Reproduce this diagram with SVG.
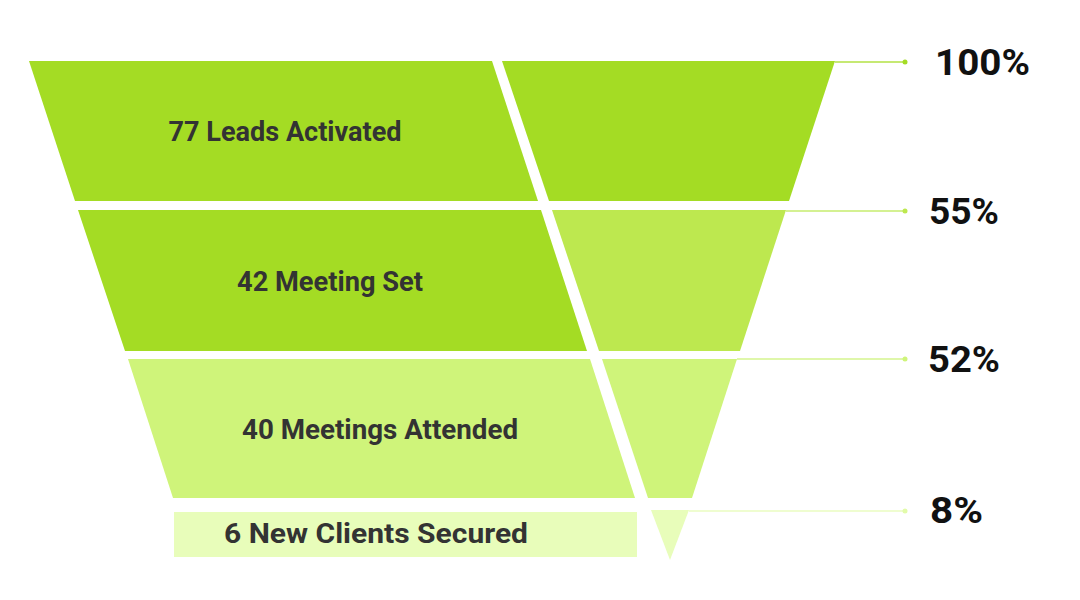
<svg xmlns="http://www.w3.org/2000/svg" width="1080" height="600" viewBox="0 0 1080 600">
<style>
.lbl{font-family:Roboto,"Liberation Sans",sans-serif;font-weight:700;font-size:28px;fill:#333333;text-anchor:middle}
.pct{font-family:Roboto,"Liberation Sans",sans-serif;font-weight:700;font-size:36.5px;fill:#111111}
.c1{fill:#A4DC24}.c2{fill:#BDE84F}.c3{fill:#CFF47A}.c4{fill:#E8FDBA}
.ln{stroke-width:1.5;fill:none}
</style>
<rect width="1080" height="600" fill="#ffffff"/>
<g id="stage1">
<polygon class="c1" points="29,61 492,61 538,201 75,201"/>
<polygon class="c1" points="502,61 835,61 789,201 549,201"/>
<text class="lbl" x="285" y="141" font-size="27.5" textLength="233" lengthAdjust="spacingAndGlyphs">77 Leads Activated</text>
</g>
<g id="stage2">
<polygon class="c1" points="78,210 541,210 587,351 125,351"/>
<polygon class="c2" points="552,210 786,210 740,351 599,351"/>
<text class="lbl" x="330" y="291" textLength="186" lengthAdjust="spacingAndGlyphs">42 Meeting Set</text>
</g>
<g id="stage3">
<polygon class="c3" points="128,359 590,359 635,498 173,498"/>
<polygon class="c3" points="602,359 737,359 692,498 648,498"/>
<text class="lbl" x="380" y="439" textLength="276" lengthAdjust="spacingAndGlyphs">40 Meetings Attended</text>
</g>
<g id="stage4">
<rect class="c4" x="174" y="512" width="463" height="45"/>
<polygon class="c4" points="651,510 689,510 670,560"/>
<text class="lbl" x="376" y="543" font-size="29" textLength="304" lengthAdjust="spacingAndGlyphs">6 New Clients Secured</text>
</g>
<g id="connectors">
<line class="ln" x1="835" y1="62" x2="905" y2="62" stroke="#B3E244"/>
<circle cx="905" cy="62" r="2.5" fill="#A4DC24"/>
<line class="ln" x1="786" y1="211" x2="905" y2="211" stroke="#C6EC6E"/>
<circle cx="905" cy="211" r="2.5" fill="#BDE84F"/>
<line class="ln" x1="737" y1="359" x2="905" y2="359" stroke="#D5F58E"/>
<circle cx="905" cy="359" r="2.5" fill="#CFF47A"/>
<line class="ln" x1="689" y1="511" x2="905" y2="511" stroke="#EAFCC0"/>
<circle cx="905" cy="511" r="2.5" fill="#E2FBAA"/>
</g>
<g id="percentages">
<text class="pct" x="935" y="75" textLength="95" lengthAdjust="spacingAndGlyphs">100%</text>
<text class="pct" x="929" y="224" textLength="70" lengthAdjust="spacingAndGlyphs">55%</text>
<text class="pct" x="928" y="372" textLength="72" lengthAdjust="spacingAndGlyphs">52%</text>
<text class="pct" x="930" y="523" textLength="53" lengthAdjust="spacingAndGlyphs">8%</text>
</g>
</svg>
